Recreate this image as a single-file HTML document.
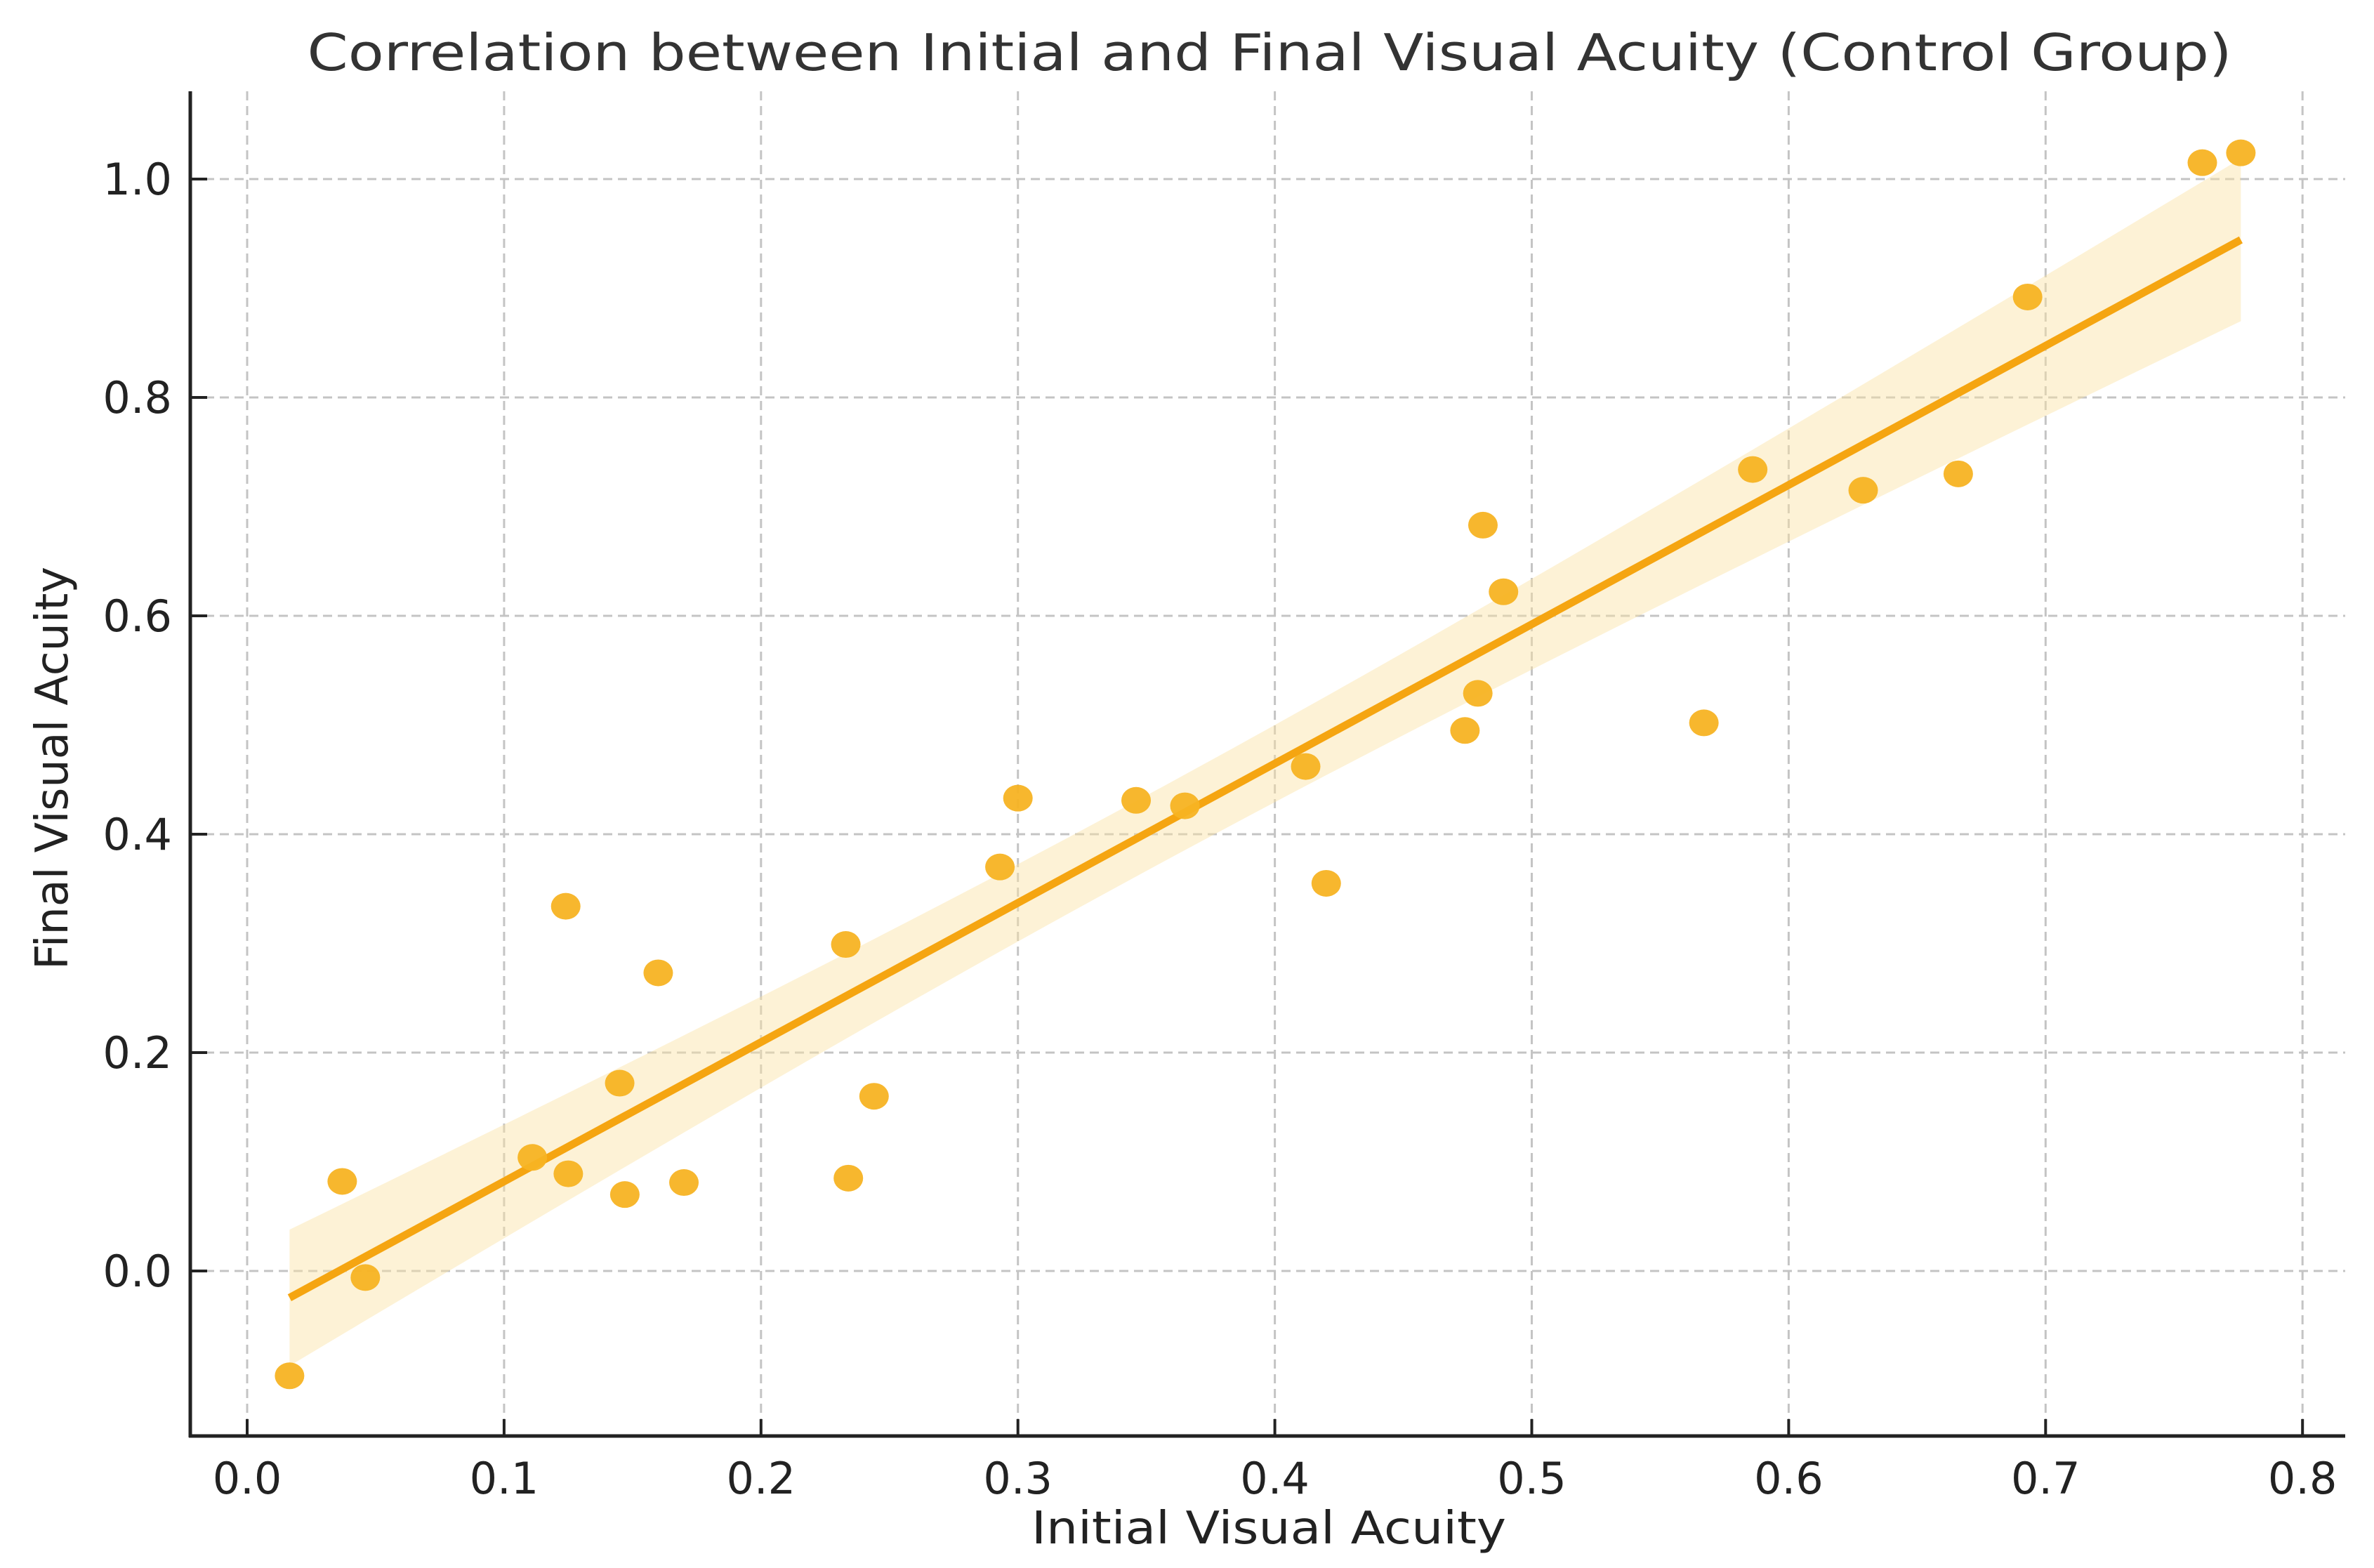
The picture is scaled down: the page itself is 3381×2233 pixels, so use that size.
<!DOCTYPE html>
<html><head><meta charset="utf-8"><style>
html,body{margin:0;padding:0;background:#fff;}
svg{display:block;font-family:"DejaVu Sans","Liberation Sans",sans-serif;}
</style></head><body>
<svg id="chart" width="3381" height="2233" viewBox="0 0 3381 2233">
<rect width="3381" height="2233" fill="#fff"/>
<text x="1808" y="100" font-size="72" fill="#333" text-anchor="middle" textLength="2741" lengthAdjust="spacingAndGlyphs">Correlation between Initial and Final Visual Acuity (Control Group)</text>
<g id="grid"></g>
<g id="band"></g>
<g id="line"></g>
<g id="points"></g>
<g id="axes"></g>
<text x="1807" y="2198" font-size="64" fill="#222" text-anchor="middle" textLength="676" lengthAdjust="spacingAndGlyphs">Initial Visual Acuity</text>
<text x="0" y="0" transform="translate(96,1094) rotate(-90)" font-size="64" fill="#222" text-anchor="middle" textLength="574" lengthAdjust="spacingAndGlyphs">Final Visual Acuity</text>
</svg>
<script>
const xValues=[0.0165,0.037,0.046,0.111,0.124,0.125,0.145,0.147,0.160,0.170,0.233,0.234,0.244,0.293,0.300,0.346,0.365,0.412,0.420,0.474,0.479,0.481,0.489,0.567,0.586,0.629,0.666,0.693,0.761,0.776];
const yValues=[-0.096,0.082,-0.006,0.104,0.334,0.089,0.172,0.070,0.273,0.081,0.299,0.085,0.160,0.370,0.433,0.431,0.426,0.462,0.355,0.495,0.529,0.683,0.622,0.502,0.734,0.715,0.730,0.892,1.015,1.024];
const xTicks=[0.0,0.1,0.2,0.3,0.4,0.5,0.6,0.7,0.8];
const yTicks=[0.0,0.2,0.4,0.6,0.8,1.0];

const NS="http://www.w3.org/2000/svg";
const X0=352,XS=3659;
const Y0=1810,YS=1555;
const sx=v=>X0+v*XS, sy=v=>Y0-v*YS;
const L=271,B=2045,T=130,R=3340;
function mk(tag,attrs,parent){const e=document.createElementNS(NS,tag);for(const k in attrs)e.setAttribute(k,attrs[k]);parent.appendChild(e);return e;}
const grid=document.getElementById('grid'),axes=document.getElementById('axes');
xTicks.forEach(t=>{
  const l=mk('line',{x1:sx(t),x2:sx(t),y1:T,y2:B,stroke:'#c4c4c4','stroke-width':3,'stroke-dasharray':'13 8'},grid);
  
  
  const tk=mk('line',{x1:sx(t),x2:sx(t),y1:B,y2:B-24,stroke:'#222','stroke-width':4},axes);
  
  
  const tx=mk('text',{x:sx(t),y:2127,'font-size':62,fill:'#222','text-anchor':'middle'},axes);
  tx.textContent=t.toFixed(1);
  
  
});
yTicks.forEach(t=>{
  const l=mk('line',{x1:L,x2:R,y1:sy(t),y2:sy(t),stroke:'#c4c4c4','stroke-width':3,'stroke-dasharray':'13 8'},grid);
  
  
  const tk=mk('line',{x1:L,x2:L+24,y1:sy(t),y2:sy(t),stroke:'#222','stroke-width':4},axes);
  
  
  const tx=mk('text',{x:245,y:sy(t)+22,'font-size':62,fill:'#222','text-anchor':'end'},axes);
  tx.textContent=t.toFixed(1);
  
  
});
const sp1=mk('line',{x1:L,x2:L,y1:T,y2:B+2,stroke:'#222','stroke-width':5},axes);


const sp2=mk('line',{x1:L-2,x2:R,y1:B,y2:B,stroke:'#222','stroke-width':5},axes);



const n=xValues.length;
const mx=xValues.reduce((a,b)=>a+b)/n, my=yValues.reduce((a,b)=>a+b)/n;
let sxx=0,sxy=0;for(let i=0;i<n;i++){sxx+=(xValues[i]-mx)**2;sxy+=(xValues[i]-mx)*(yValues[i]-my);}
const slope=sxy/sxx, icpt=my-slope*mx;
let sse=0;for(let i=0;i<n;i++)sse+=(yValues[i]-icpt-slope*xValues[i])**2;
const se=Math.sqrt(sse/(n-2)), tcrit=2.048;
const xmin=Math.min(...xValues), xmax=Math.max(...xValues);
const up=[],lo=[];
for(let k=0;k<=60;k++){const x=xmin+(xmax-xmin)*k/60;const yh=icpt+slope*x;const h=tcrit*se*Math.sqrt(1/n+(x-mx)**2/sxx);up.push(sx(x)+','+sy(yh+h));lo.unshift(sx(x)+','+sy(yh-h));}
const band=mk('polygon',{points:up.concat(lo).join(' '),fill:'#fbe3a3','fill-opacity':0.45},document.getElementById('band'));


const ln=mk('line',{x1:sx(xmin),y1:sy(icpt+slope*xmin),x2:sx(xmax),y2:sy(icpt+slope*xmax),stroke:'#f5a511','stroke-width':11},document.getElementById('line'));


const pg=document.getElementById('points');
for(let i=0;i<n;i++){
  const c=mk('ellipse',{cx:sx(xValues[i]),cy:sy(yValues[i]),rx:21,ry:19,fill:'#f7b323','fill-opacity':0.95},pg);
  
  
}
</script>
</body></html>
